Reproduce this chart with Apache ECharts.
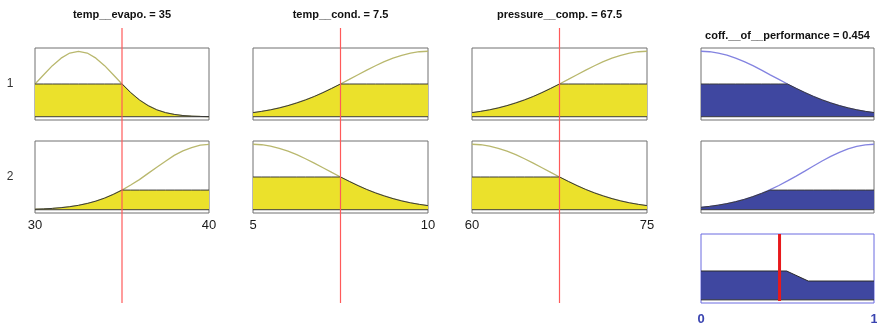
<!DOCTYPE html>
<html><head><meta charset="utf-8">
<script src="https://cdn.jsdelivr.net/npm/echarts@6/dist/echarts.min.js"></script>
<style>html,body{margin:0;padding:0;background:#fff}#c{width:877px;height:324px}</style>
</head><body><div id="c"></div>
<script>
// ---- data ----
const evapoX   = [30, 30.5, 31, 31.5, 32, 32.5, 33, 33.5, 34, 34.5, 35, 35.5, 36, 36.5, 37, 37.5, 38, 38.5, 39, 39.5, 40];
const evapoMF1 = [0.50, 0.641, 0.78, 0.895, 0.973, 1.0, 0.973, 0.895, 0.78, 0.641, 0.50, 0.368, 0.256, 0.169, 0.105, 0.062, 0.035, 0.018, 0.009, 0.004, 0.002];
const evapoMF2 = [0.008, 0.013, 0.020, 0.031, 0.046, 0.067, 0.095, 0.131, 0.177, 0.234, 0.30, 0.378, 0.46, 0.555, 0.65, 0.74, 0.83, 0.898, 0.95, 0.988, 1.0];
const condX    = [5, 5.25, 5.5, 5.75, 6, 6.25, 6.5, 6.75, 7, 7.25, 7.5, 7.75, 8, 8.25, 8.5, 8.75, 9, 9.25, 9.5, 9.75, 10];
const condMF1  = [0.062, 0.082, 0.105, 0.134, 0.169, 0.210, 0.256, 0.309, 0.368, 0.432, 0.50, 0.570, 0.641, 0.712, 0.779, 0.841, 0.895, 0.939, 0.973, 0.993, 1.0];
const condMF2  = [1.0, 0.993, 0.973, 0.939, 0.895, 0.841, 0.779, 0.712, 0.641, 0.570, 0.50, 0.432, 0.368, 0.309, 0.256, 0.210, 0.169, 0.134, 0.105, 0.082, 0.062];
const pressX   = [60, 60.75, 61.5, 62.25, 63, 63.75, 64.5, 65.25, 66, 66.75, 67.5, 68.25, 69, 69.75, 70.5, 71.25, 72, 72.75, 73.5, 74.25, 75];
const pressMF1 = [0.062, 0.082, 0.105, 0.134, 0.169, 0.210, 0.256, 0.309, 0.368, 0.432, 0.50, 0.570, 0.641, 0.712, 0.779, 0.841, 0.895, 0.939, 0.973, 0.993, 1.0];
const pressMF2 = [1.0, 0.993, 0.973, 0.939, 0.895, 0.841, 0.779, 0.712, 0.641, 0.570, 0.50, 0.432, 0.368, 0.309, 0.256, 0.210, 0.169, 0.134, 0.105, 0.082, 0.062];
const copX     = [0, 0.05, 0.1, 0.15, 0.2, 0.25, 0.3, 0.35, 0.4, 0.45, 0.5, 0.55, 0.6, 0.65, 0.7, 0.75, 0.8, 0.85, 0.9, 0.95, 1.0];
const copMF1   = [1.0, 0.993, 0.973, 0.940, 0.895, 0.841, 0.78, 0.712, 0.64, 0.571, 0.50, 0.433, 0.37, 0.310, 0.257, 0.211, 0.17, 0.135, 0.106, 0.082, 0.063];
const copMF2   = [0.037, 0.051, 0.07, 0.093, 0.122, 0.157, 0.20, 0.249, 0.306, 0.37, 0.44, 0.514, 0.59, 0.668, 0.744, 0.814, 0.877, 0.929, 0.968, 0.992, 1.0];

const evapoInput = 35, condInput = 7.5, pressInput = 67.5, copOutput = 0.454;
const evapoLevels = [0.5, 0.3];
const condLevels  = [0.5, 0.5];
const pressLevels = [0.5, 0.5];
const copLevels   = [0.5, 0.3];
const aggX = [0, 0.495, 0.62, 1];
const aggY = [0.46, 0.46, 0.30, 0.30];

const titles = ['temp__evapo. = 35', 'temp__cond. = 7.5', 'pressure__comp. = 67.5', 'coff.__of__performance = 0.454'];
const ruleLabels = ['1', '2'];
const evapoRange = [30, 40], condRange = [5, 10], pressRange = [60, 75], copRange = [0, 1];

// ---- layout ----
const cols = [{l: 35, w: 174}, {l: 253, w: 175}, {l: 472, w: 175}, {l: 701, w: 173}];
const rows = [{t: 48, h: 72}, {t: 141, h: 72}];
const agg = {t: 234, h: 69};

const vars = [
  {x: evapoX, mfs: [evapoMF1, evapoMF2], lv: evapoLevels, r: evapoRange, inp: evapoInput, out: false},
  {x: condX, mfs: [condMF1, condMF2], lv: condLevels, r: condRange, inp: condInput, out: false},
  {x: pressX, mfs: [pressMF1, pressMF2], lv: pressLevels, r: pressRange, inp: pressInput, out: false},
  {x: copX, mfs: [copMF1, copMF2], lv: copLevels, r: copRange, inp: null, out: true}
];

const grid = [], xAxis = [], yAxis = [], series = [], graphic = [];
let gi = 0;
function addGrid(g, xr, ymin, ymax, showLabels, labelColor, labelMargin, border) {
  grid.push(Object.assign({show: !!border, borderColor: border || 'transparent', borderWidth: 1, backgroundColor: 'transparent', containLabel: false, outerBoundsMode: 'none'}, g));
  xAxis.push({type: 'value', gridIndex: gi, min: xr[0], max: xr[1], interval: xr[1] - xr[0],
    axisLine: {show: false}, axisTick: {show: false}, splitLine: {show: false},
    axisLabel: {show: showLabels, color: labelColor, fontSize: 13, fontFamily: 'Liberation Sans, Arial, sans-serif', margin: labelMargin, fontWeight: labelColor === '#1a1a1a' ? 'normal' : 'bold'}});
  yAxis.push({type: 'value', gridIndex: gi, min: ymin, max: ymax, show: false, splitLine: {show: false}});
  return gi++;
}

vars.forEach((v, ci) => {
  const c = cols[ci];
  const fillCol = v.out ? '#3f47a0' : '#ebe12b';
  const curveCol = v.out ? '#8383e0' : '#b9b86e';
  rows.forEach((rw, ri) => {
    const showL = !v.out && ri === 1;
    const idx = addGrid({left: c.l, top: rw.t, width: c.w, height: rw.h}, v.r, -0.05, 1.05, showL, '#1a1a1a', 6, '#707070');
    const mf = v.mfs[ri];
    const lvl = v.lv[ri];
    series.push({type: 'line', xAxisIndex: idx, yAxisIndex: idx, data: v.x.map((x, i) => [x, mf[i]]),
      symbol: 'none', lineStyle: {color: curveCol, width: 1.3}, z: 2, silent: true});
    series.push({type: 'line', xAxisIndex: idx, yAxisIndex: idx, data: v.x.map((x, i) => [x, Math.min(mf[i], lvl)]),
      symbol: 'none', lineStyle: {color: '#3a3a3a', width: 1}, areaStyle: {color: fillCol, opacity: 1}, z: 3, silent: true});
    series.push({type: 'line', xAxisIndex: idx, yAxisIndex: idx, data: [[v.r[0], 0], [v.r[1], 0]],
      symbol: 'none', lineStyle: {color: '#3a3a3a', width: 1}, z: 4, silent: true});
  });
  graphic.push({type: 'text', x: c.l + c.w / 2, y: v.out ? 36 : 15,
    style: {text: titles[ci], fill: '#111', font: 'bold 11px "Liberation Sans", Arial, sans-serif', textAlign: 'center', textVerticalAlign: 'middle'}});
  if (!v.out) {
    const idx = addGrid({left: c.l, top: 28, width: c.w, height: 275}, v.r, 0, 1, false, '#1a1a1a', 6, null);
    series.push({type: 'line', xAxisIndex: idx, yAxisIndex: idx, data: [[v.inp, 0], [v.inp, 1]],
      symbol: 'none', color: '#ff5a5a', lineStyle: {color: '#ff5a5a', width: 1.2}, z: 10, silent: true});
  }
});

// aggregated output
{
  const c = cols[3];
  const idx = addGrid({left: c.l, top: agg.t, width: c.w, height: agg.h}, copRange, -0.05, 1.05, true, '#3a44b0', 10, '#6b6be0');
  series.push({type: 'line', xAxisIndex: idx, yAxisIndex: idx, data: aggX.map((x, i) => [x, aggY[i]]),
    symbol: 'none', lineStyle: {color: '#2a2a2a', width: 1}, areaStyle: {color: '#3f47a0', opacity: 1}, z: 3, silent: true});
  series.push({type: 'line', xAxisIndex: idx, yAxisIndex: idx, data: [[copRange[0], 0], [copRange[1], 0]],
    symbol: 'none', lineStyle: {color: '#2a2a2a', width: 1}, z: 4, silent: true});
  series.push({type: 'line', xAxisIndex: idx, yAxisIndex: idx, data: [[copOutput, -0.02], [copOutput, 1.05]],
    symbol: 'none', color: '#e8191c', lineStyle: {color: '#e8191c', width: 3}, z: 10, silent: true});
}

rows.forEach((rw, ri) => {
  graphic.push({type: 'text', x: 10, y: rw.t + rw.h / 2,
    style: {text: ruleLabels[ri], fill: '#333', font: '12px "Liberation Sans", Arial, sans-serif', textAlign: 'center', textVerticalAlign: 'middle'}});
});

const chart = echarts.init(document.getElementById('c'), null, {renderer: 'canvas'});
chart.setOption({animation: false, backgroundColor: '#fff', grid, xAxis, yAxis, series, graphic});
</script></body></html>
